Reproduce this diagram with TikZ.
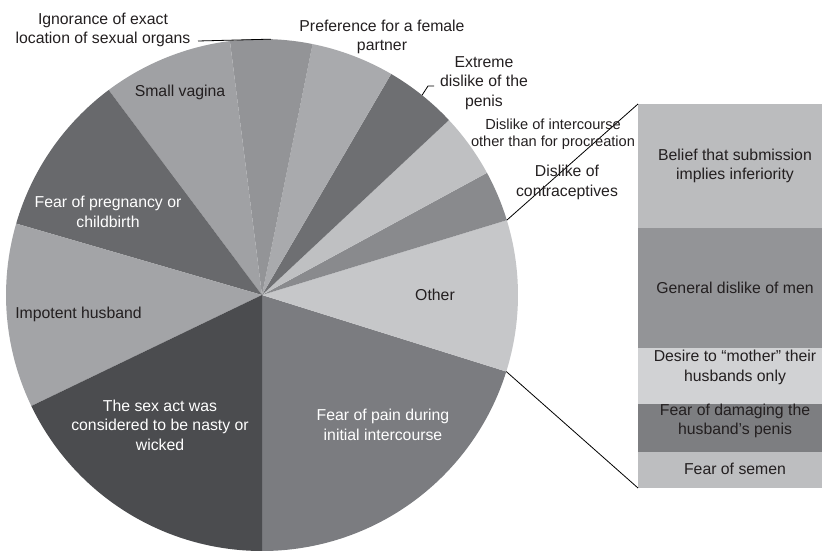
\documentclass[tikz,border=0pt]{standalone}
\usepackage{fontspec}
\setmainfont{Liberation Sans}
\definecolor{cPain}{HTML}{7B7C80}
\definecolor{cOther}{HTML}{C6C7C9}
\definecolor{cContra}{HTML}{898A8D}
\definecolor{cInter}{HTML}{BFC0C2}
\definecolor{cExtreme}{HTML}{6E6F72}
\definecolor{cPref}{HTML}{A9AAAD}
\definecolor{cIgn}{HTML}{939497}
\definecolor{cSmall}{HTML}{A0A1A4}
\definecolor{cPreg}{HTML}{68696C}
\definecolor{cImp}{HTML}{A3A4A7}
\definecolor{cSex}{HTML}{4B4C4F}
\definecolor{cBelief}{HTML}{BBBCBE}
\definecolor{cGeneral}{HTML}{939497}
\definecolor{cDesire}{HTML}{D1D2D4}
\definecolor{cDamage}{HTML}{7D7E81}
\definecolor{cSemen}{HTML}{BDBEC0}
\definecolor{txtdark}{HTML}{231F20}
\newcommand\pieslice[3]{\fill[#3] (C) -- ++(#1:256) arc[start angle=#1, end angle=#2, radius=256] -- cycle;}
\begin{document}
\begin{tikzpicture}[x=1pt,y=1pt,
  lbl/.style={font=\fontsize{15.8}{19.5}\selectfont, text=txtdark, align=center, inner sep=0pt},
  wlbl/.style={lbl, text=white},
  slbl/.style={lbl, font=\fontsize{14.6}{17.5}\selectfont},
  leader/.style={draw=black, line width=0.8pt},
  barseg/.style={draw=none, inner sep=0pt, outer sep=0pt, minimum width=194}]
\useasboundingbox (0,0) rectangle (822,550);
\coordinate (C) at (262,255);
% pie slices
\pieslice{-90}{-17.4}{cPain}
\pieslice{-17.4}{17}{cOther}
\pieslice{17}{28.5}{cContra}
\pieslice{28.5}{43.1}{cInter}
\pieslice{43.1}{59.7}{cExtreme}
\pieslice{59.7}{78.6}{cPref}
\pieslice{78.6}{97.2}{cIgn}
\pieslice{97.2}{126.8}{cSmall}
\pieslice{126.8}{163.8}{cPreg}
\pieslice{163.8}{205.7}{cImp}
\pieslice{205.7}{270}{cSex}
% bar
\node[barseg, fill=cBelief, minimum height=124] (belief) at (735,384) {};
\node[barseg, fill=cGeneral, minimum height=120] (general) at (735,262) {};
\node[barseg, fill=cDesire, minimum height=56] (desire) at (735,174) {};
\node[barseg, fill=cDamage, minimum height=48] (damage) at (735,122) {};
\node[barseg, fill=cSemen, minimum height=36] (semen) at (735,80) {};
% connector points
\path (C) ++(17:256) coordinate (oTop);
\path (C) ++(-17.4:256) coordinate (oBot);
\path (C) ++(88:256) coordinate (ignP);
\coordinate (ignL) at (198,509);
\path (C) ++(51.3:256) coordinate (extP);
\coordinate (extK) at (428,464);
\coordinate (extL) at (434,464);
\draw[leader] (oTop) -- (belief.north west);
\draw[leader] (oBot) -- (semen.south west);
\draw[leader] (ignL) -- (ignP);
\draw[leader] (extP) -- (extK) -- (extL);
% labels
\node[lbl] (ign) at (103,520) {Ignorance of exact\\location of sexual organs};
\node[lbl] (pref) at (382,513) {Preference for a female\\partner};
\node[lbl] (extr) at (484,467) {Extreme\\dislike of the\\penis};
\node[slbl] (inter) at (553,416) {Dislike of intercourse\\other than for procreation};
\node[lbl] (contra) at (567,367.5) {Dislike of\\contraceptives};
\node[lbl] (small) at (180,458) {Small vagina};
\node[wlbl] (preg) at (108,338) {Fear of pregnancy or\\childbirth};
\node[lbl] (imp) at (78.5,236) {Impotent husband};
\node[wlbl] (sex) at (160,125) {The sex act was\\considered to be nasty or\\wicked};
\node[wlbl] (pain) at (383,125) {Fear of pain during\\initial intercourse};
\node[lbl] (other) at (435,255) {Other};
\node[lbl] (tBelief) at (735,384) {Belief that submission\\implies inferiority};
\node[lbl] (tGeneral) at (735,262) {General dislike of men};
\node[lbl] (tDesire) at (735,182.5) {Desire to “mother” their\\husbands only};
\node[lbl] (tDamage) at (735,129) {Fear of damaging the\\husband’s penis};
\node[lbl] (tSemen) at (735,81) {Fear of semen};
\end{tikzpicture}
\end{document}
